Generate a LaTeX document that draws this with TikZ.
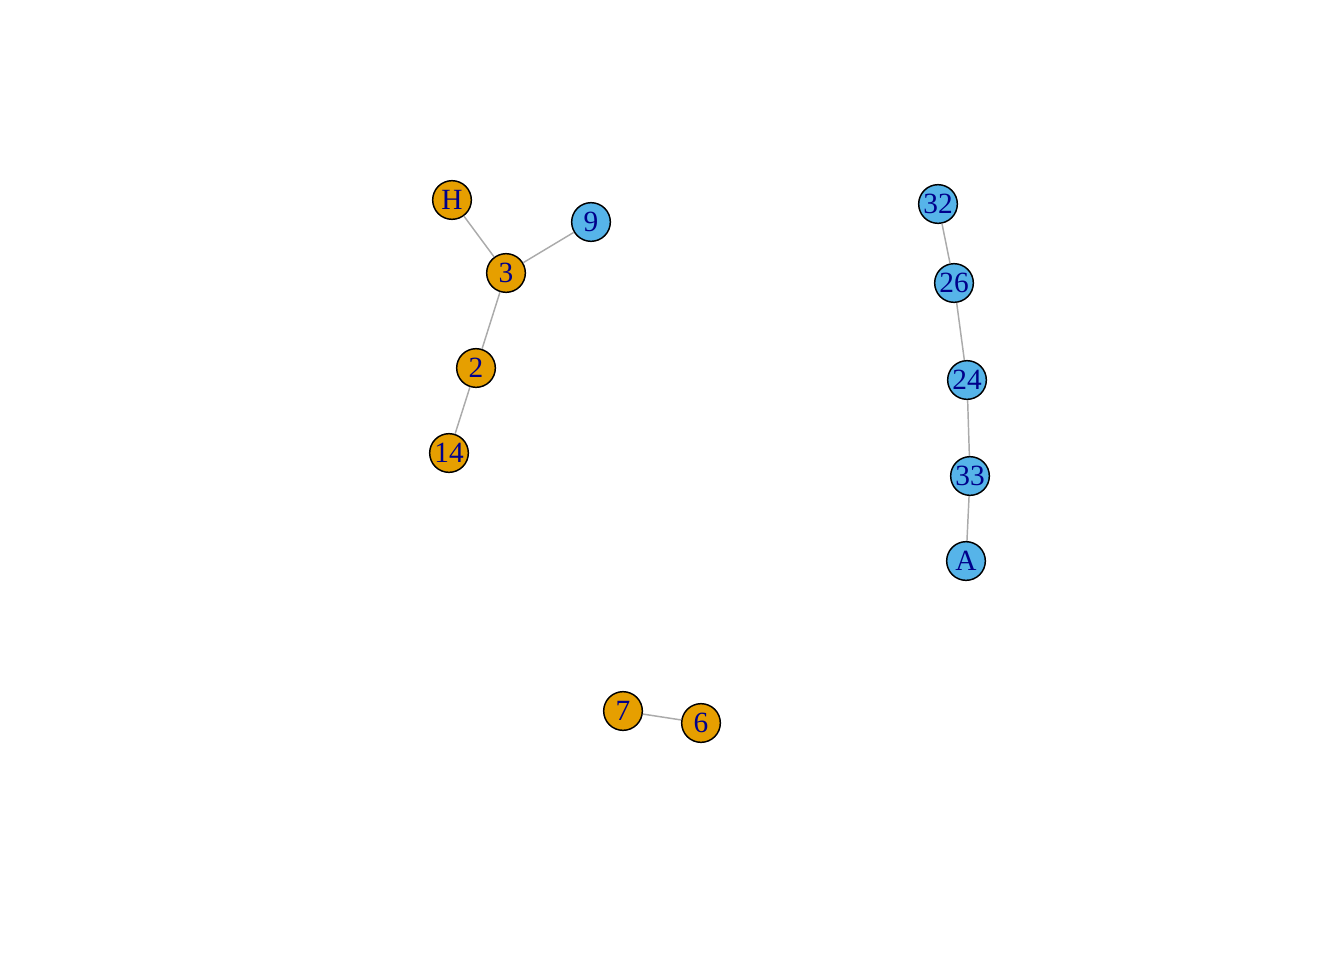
\documentclass[tikz,border=0pt]{standalone}
\usepackage{fontspec}
\setmainfont{Liberation Serif}
\definecolor{vorange}{HTML}{E69F00}
\definecolor{vblue}{HTML}{56B4E9}
\definecolor{vlabel}{HTML}{00008B}
\tikzset{
    vert/.style = {circle, draw = black, line width = 1.1pt, minimum size = 29pt, inner sep = 0pt,
        text = vlabel, font = \fontsize{22}{22}\selectfont},
    vo/.style = {vert, fill = vorange},
    vb/.style = {vert, fill = vblue},
    edge/.style = {draw = black!33, line width = 1.1pt}
}
\begin{document}
\begin{tikzpicture}[x = 0.75pt, y = -0.75pt]
        \useasboundingbox (0, 0) rectangle (1344, 960);
        % first component
        \node[vo] (H) at (452, 200) {H};
        \node[vb] (n9) at (591, 222) {9};
        \node[vo] (n3) at (506, 273) {3};
        \node[vo] (n2) at (476, 368) {2};
        \node[vo] (n14) at (449, 453) {14};
        % second component
        \node[vb] (n32) at (938, 204) {32};
        \node[vb] (n26) at (954, 283) {26};
        \node[vb] (n24) at (967, 380) {24};
        \node[vb] (n33) at (970, 476) {33};
        \node[vb] (A) at (966, 561) {A};
        % third component
        \node[vo] (n7) at (623, 711) {7};
        \node[vo] (n6) at (701, 723) {6};
        \foreach \a/\b in {H/n3, n9/n3, n3/n2, n2/n14, n32/n26, n26/n24, n24/n33, n33/A, n7/n6}{
            \draw[edge] (\a) -- (\b);
        }
    \end{tikzpicture}
\end{document}
